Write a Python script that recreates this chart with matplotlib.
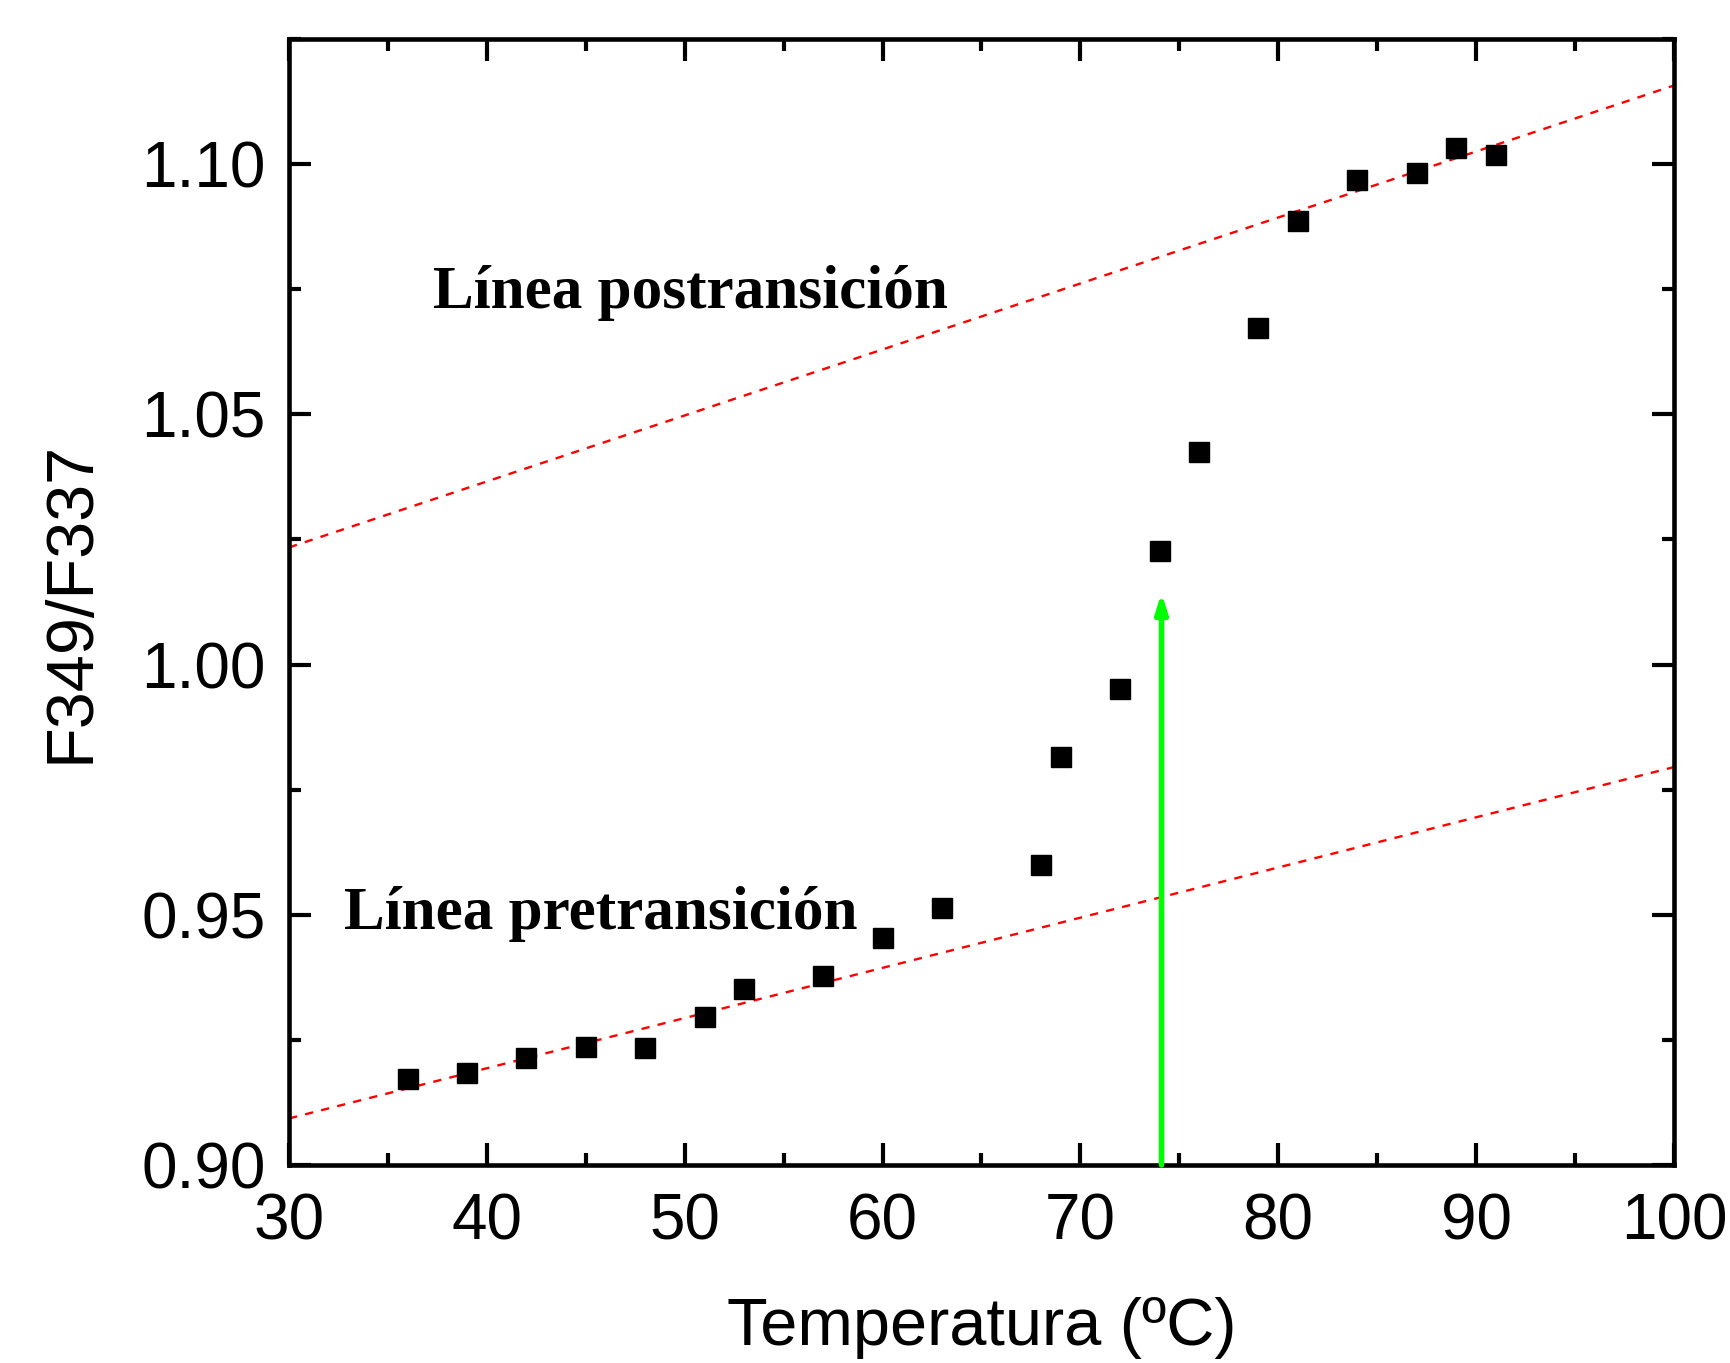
import numpy as np
import matplotlib.pyplot as plt
from matplotlib.ticker import MultipleLocator

# datos
temp = [36, 39, 42, 45, 48, 51, 53, 57, 60, 63, 68, 69, 72, 74, 76, 79, 81, 84, 87, 89, 91]
ratio = [0.9172, 0.9183, 0.9214, 0.9236, 0.9234, 0.9296, 0.9351, 0.9377, 0.9453, 0.9514,
         0.9600, 0.9815, 0.9951, 1.0227, 1.0424, 1.0673, 1.0887, 1.0969, 1.0982, 1.1033, 1.1018]

# rectas de ajuste (extremos en x = 30 y x = 100)
line_x = [30, 100]
pre_y = [0.9093, 0.9795]
post_y = [1.0234, 1.1157]

# flecha en la temperatura de transicion
tm = 74.1
arrow_y = [0.90, 1.0143]

plt.rcParams['font.family'] = ['Liberation Sans', 'DejaVu Sans']

fig = plt.figure(figsize=(17.31, 13.63), dpi=100)
ax = fig.add_axes([0.167, 0.1453, 0.800, 0.8261])

ax.plot(line_x, pre_y, color='red', lw=1.7, dashes=(3.5, 3.5))
ax.plot(line_x, post_y, color='red', lw=1.7, dashes=(3.5, 3.5))
ax.plot(temp, ratio, 's', color='black', markersize=15, zorder=3)

ax.annotate('', xy=(tm, arrow_y[1]), xytext=(tm, arrow_y[0]),
            arrowprops=dict(arrowstyle='-|>,head_length=1.1,head_width=0.35',
                            color='#00ff00', lw=4, shrinkA=0, shrinkB=0))

ax.text(37.3, 1.0742, 'Línea postransición', family=['Liberation Serif'], weight='bold',
        fontsize=44, va='center', ha='left')
ax.text(32.8, 0.9501, 'Línea pretransición', family=['Liberation Serif'], weight='bold',
        fontsize=44, va='center', ha='left')

ax.set_xlim(30, 100)
ax.set_ylim(0.90, 1.125)
ax.xaxis.set_major_locator(MultipleLocator(10))
ax.xaxis.set_minor_locator(MultipleLocator(5))
ax.yaxis.set_major_locator(MultipleLocator(0.05))
ax.yaxis.set_minor_locator(MultipleLocator(0.025))
ax.yaxis.set_major_formatter(plt.FormatStrFormatter('%.2f'))

ax.tick_params(which='both', direction='in', top=True, right=True, width=3, labelsize=46)
ax.tick_params(which='major', length=16)
ax.tick_params(which='minor', length=8.5)
ax.tick_params(axis='x', which='major', pad=20)
ax.tick_params(axis='y', which='major', pad=17)
for s in ax.spines.values():
    s.set_linewidth(3.3)

ax.set_xlabel('Temperatura (ºC)', fontsize=48, labelpad=32)
ax.set_ylabel('F349/F337', fontsize=48, labelpad=28)

fig.savefig('out.png', dpi=100)
